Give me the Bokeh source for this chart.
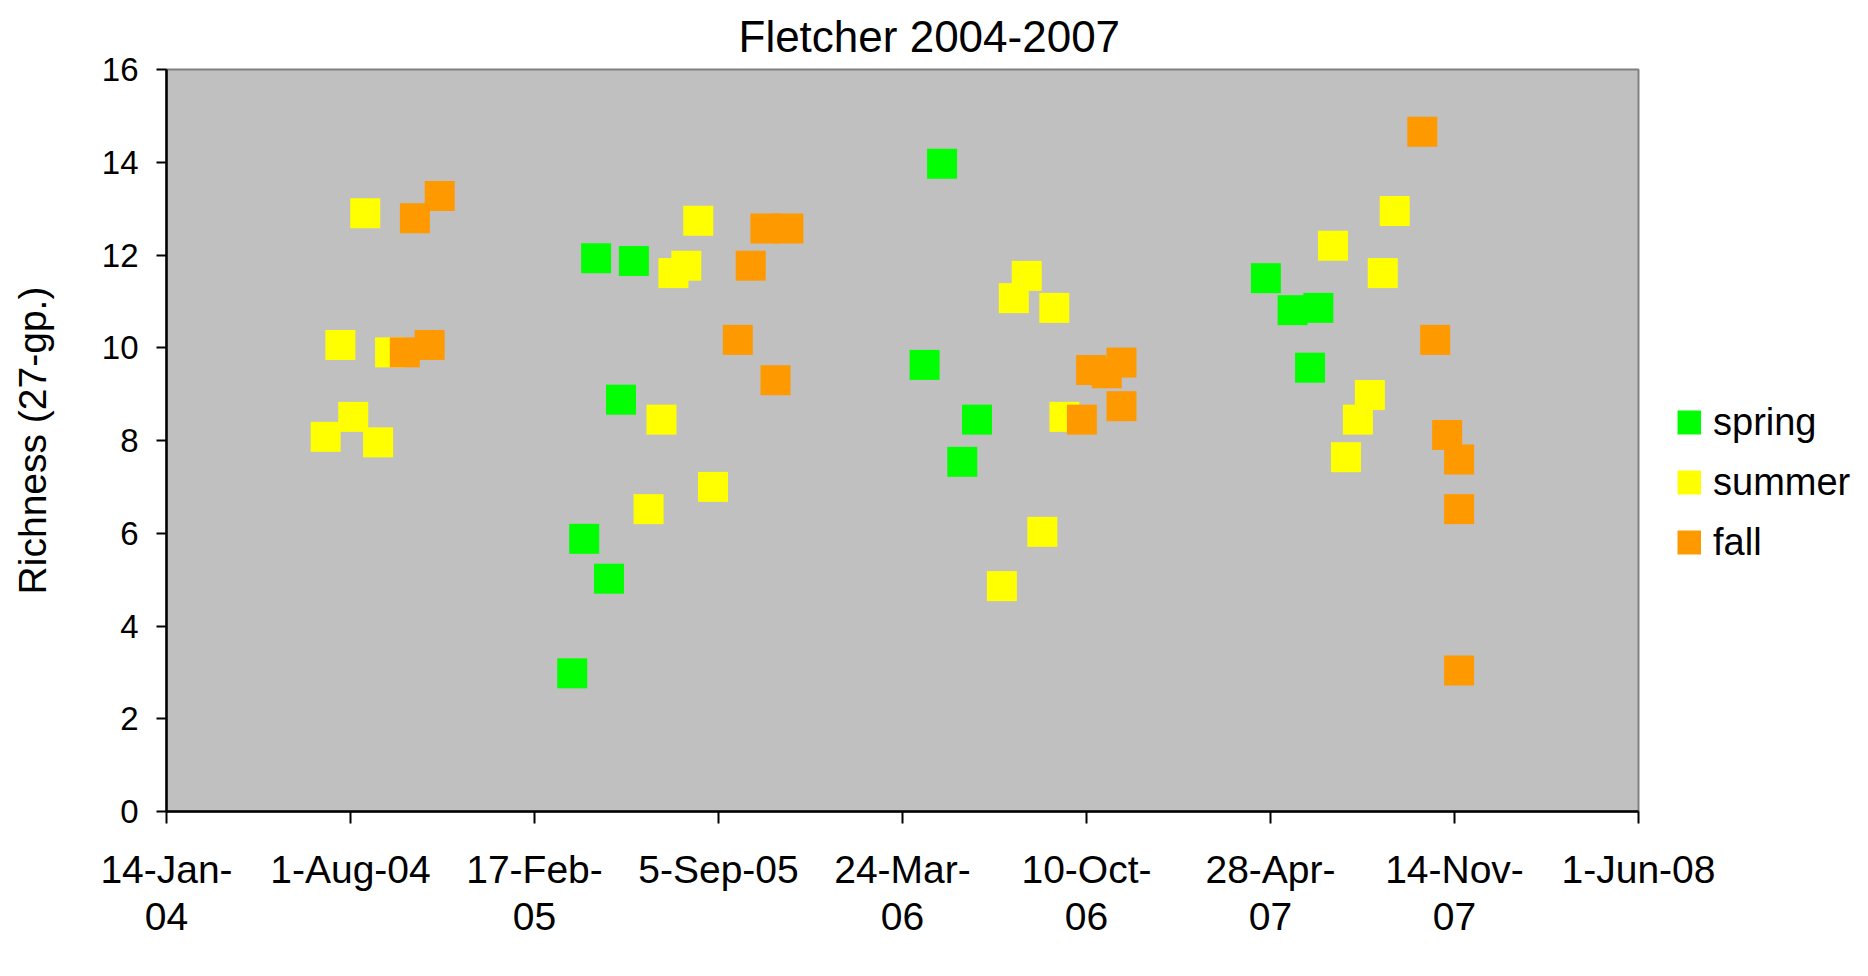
from bokeh.plotting import figure
from bokeh.models import Range1d, FixedTicker, Legend, LegendItem
from bokeh.embed import file_html
from bokeh.resources import INLINE
import pandas as pd

# ---- data ----
spring_dates = ["2005-03-30", "2005-04-12", "2005-04-25", "2005-05-09", "2005-05-22", "2005-06-05",
                "2006-04-17", "2006-05-06", "2006-05-28", "2006-06-13",
                "2007-04-23", "2007-05-22", "2007-06-10", "2007-06-19"]
spring_vals = [2.98, 5.88, 11.93, 5.02, 8.88, 11.87,
               9.63, 13.97, 7.54, 8.45,
               11.50, 10.81, 9.57, 10.86]

summer_dates = ["2004-07-05", "2004-07-21", "2004-08-04", "2004-08-17", "2004-08-31", "2004-09-13",
                "2005-06-21", "2005-07-05", "2005-07-18", "2005-08-01", "2005-08-14", "2005-08-30",
                "2006-07-10", "2006-07-23", "2006-08-06", "2006-08-23", "2006-09-05", "2006-09-16",
                "2007-07-05", "2007-07-19", "2007-08-01", "2007-08-14", "2007-08-28", "2007-09-10"]
summer_vals = [8.08, 10.06, 8.51, 12.90, 7.96, 9.90,
               6.52, 8.45, 11.61, 11.77, 12.74, 7.00,
               4.86, 11.07, 11.55, 6.03, 10.86, 8.51,
               12.20, 7.64, 8.45, 8.98, 11.61, 12.95]

fall_dates = ["2004-09-29", "2004-10-10", "2004-10-26", "2004-11-06",
              "2005-09-26", "2005-10-10", "2005-10-26", "2005-11-06", "2005-11-20",
              "2006-10-05", "2006-10-15", "2006-11-01", "2006-11-17", "2006-11-17",
              "2007-10-10", "2007-10-24", "2007-11-06", "2007-11-19", "2007-11-19", "2007-11-19"]
fall_vals = [9.90, 12.79, 10.06, 13.27,
             10.17, 11.77, 12.57, 9.30, 12.57,
             8.45, 9.52, 9.45, 9.68, 8.74,
             14.66, 10.17, 8.12, 7.59, 6.52, 3.04]

# Excel serial day numbers of the axis ticks (200-day major unit)
x_ticks = [38000, 38200, 38400, 38600, 38800, 39000, 39200, 39400, 39600]
x_tick_labels = ["14-Jan-\n04", "1-Aug-04", "17-Feb-\n05", "5-Sep-05", "24-Mar-\n06",
                 "10-Oct-\n06", "28-Apr-\n07", "14-Nov-\n07", "1-Jun-08"]
y_ticks = [0, 2, 4, 6, 8, 10, 12, 14, 16]

series_names = ["spring", "summer", "fall"]
series_colors = ["#00FF00", "#FFFF00", "#FF9900"]
title_text = "Fletcher 2004-2007"

FONT = "Liberation Sans"


def to_serial(dates):
    base = pd.Timestamp("1899-12-30")
    return [(pd.Timestamp(d) - base).days for d in dates]


p = figure(frame_width=1472, frame_height=742,
           x_range=Range1d(38000, 39600), y_range=Range1d(0, 16),
           output_backend="svg", toolbar_location=None,
           min_border_left=166, min_border_top=69, min_border_right=220, min_border_bottom=150,
           background_fill_color="#C0C0C0", border_fill_color="white",
           outline_line_color="#808080", outline_line_width=2)

p.title.text = title_text
p.title.align = "left"
p.title.offset = 572
p.title.standoff = 18
p.title.text_font = FONT
p.title.text_font_size = "44px"
p.title.text_font_style = "normal"
p.title.text_color = "black"

p.xgrid.visible = False
p.ygrid.visible = False

xa = p.xaxis[0]
xa.ticker = FixedTicker(ticks=x_ticks)
xa.major_label_overrides = {t: lab for t, lab in zip(x_ticks, x_tick_labels)}
xa.minor_tick_line_color = None
xa.major_tick_in = 0
xa.major_tick_out = 12
xa.major_tick_line_width = 2
xa.major_tick_line_color = "black"
xa.axis_line_width = 2.5
xa.axis_line_color = "black"
xa.major_label_text_font = FONT
xa.major_label_text_font_size = "39px"
xa.major_label_text_line_height = 1.1
xa.major_label_text_color = "black"
xa.major_label_standoff = 24

ya = p.yaxis[0]
ya.ticker = FixedTicker(ticks=y_ticks)
ya.minor_tick_line_color = None
ya.major_tick_in = 0
ya.major_tick_out = 10
ya.major_tick_line_width = 2
ya.major_tick_line_color = "black"
ya.axis_line_width = 2.5
ya.axis_line_color = "black"
ya.major_label_text_font = FONT
ya.major_label_text_font_size = "33px"
ya.major_label_text_color = "black"
ya.major_label_standoff = 18
ya.axis_label = "Richness (27-gp.)"
ya.axis_label_text_font = FONT
ya.axis_label_text_font_size = "39px"
ya.axis_label_text_font_style = "normal"
ya.axis_label_text_color = "black"
ya.axis_label_standoff = 45

renderers = []
for name, color, dates, vals in zip(series_names, series_colors,
                                    [spring_dates, summer_dates, fall_dates],
                                    [spring_vals, summer_vals, fall_vals]):
    r = p.scatter(x=to_serial(dates), y=vals, marker="square", size=30,
                  fill_color=color, line_color=None)
    renderers.append(r)

# legend proxies (draw nothing in the plot): a thick butt-capped line gives a square swatch
nan = float("nan")
proxies = [p.line(x=[nan], y=[nan], line_color=c, line_width=24, line_cap="butt") for c in series_colors]

legend = Legend(items=[LegendItem(label=n, renderers=[r]) for n, r in zip(series_names, proxies)],
                location=(39, 239), padding=0, margin=0, spacing=0,
                glyph_width=24, glyph_height=60, label_standoff=12,
                label_text_font=FONT, label_text_font_size="38px", label_text_color="black",
                border_line_color=None, background_fill_alpha=0)
p.add_layout(legend, "right")

open("out.html", "w").write(file_html(p, INLINE))
